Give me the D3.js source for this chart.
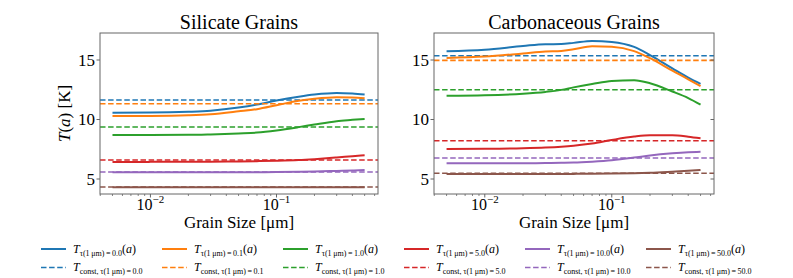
<!DOCTYPE html>
<html>
<head>
<meta charset="utf-8">
<script src="https://cdn.jsdelivr.net/npm/d3@7"></script>
<style>
  body { margin: 0; background: #fff; }
</style>
</head>
<body>
<div id="chart"></div>
<script>
const taus = ["0.0", "0.1", "1.0", "5.0", "10.0", "50.0"];
const colors = ["#1f77b4", "#ff7f0e", "#2ca02c", "#d62728", "#9467bd", "#8c564b"];

// silicate grains
const silSizes = [0.005, 0.01, 0.02, 0.03, 0.05, 0.07, 0.1, 0.15, 0.2, 0.3, 0.4, 0.5];
const silT = [
  [10.57, 10.58, 10.65, 10.74, 11.0, 11.25, 11.6, 11.92, 12.1, 12.23, 12.18, 12.1],
  [10.29, 10.3, 10.36, 10.45, 10.69, 10.87, 11.2, 11.58, 11.75, 11.88, 11.86, 11.79],
  [8.7, 8.7, 8.71, 8.75, 8.83, 8.9, 9.08, 9.36, 9.58, 9.86, 9.97, 10.05],
  [6.43, 6.44, 6.45, 6.46, 6.48, 6.5, 6.53, 6.59, 6.67, 6.81, 6.92, 7.0],
  [5.56, 5.56, 5.56, 5.56, 5.56, 5.57, 5.58, 5.6, 5.63, 5.68, 5.72, 5.76],
  [4.3, 4.3, 4.3, 4.3, 4.3, 4.3, 4.3, 4.3, 4.3, 4.3, 4.31, 4.31]
];
const silConst = [11.64, 11.33, 9.37, 6.6, 5.59, 4.33];

// carbonaceous grains
const carSizes = [0.005, 0.01, 0.02, 0.03, 0.04, 0.05, 0.07, 0.1, 0.15, 0.2, 0.3, 0.4, 0.5];
const carT = [
  [15.74, 15.86, 16.18, 16.33, 16.34, 16.44, 16.6, 16.52, 16.1, 15.42, 14.3, 13.52, 13.0],
  [15.17, 15.29, 15.55, 15.71, 15.76, 15.9, 16.16, 16.12, 15.75, 15.15, 14.1, 13.38, 12.8],
  [12.0, 12.04, 12.17, 12.32, 12.49, 12.7, 12.98, 13.24, 13.3, 13.05, 12.35, 11.8, 11.25],
  [7.52, 7.54, 7.59, 7.65, 7.72, 7.8, 7.98, 8.28, 8.57, 8.68, 8.68, 8.56, 8.42],
  [6.32, 6.32, 6.33, 6.34, 6.36, 6.38, 6.46, 6.58, 6.8, 6.98, 7.16, 7.25, 7.29],
  [5.42, 5.42, 5.42, 5.42, 5.42, 5.43, 5.44, 5.46, 5.49, 5.53, 5.62, 5.69, 5.76]
];
const carConst = [15.36, 14.97, 12.5, 8.22, 6.76, 5.48];

const yTicks = [5, 10, 15];
const xTicks = [0.01, 0.1];

const width = 793;
const height = 278;
const plotTop = 33;
const plotBottom = 194;
const spine = "#666";
const serif = "'Liberation Serif', Tinos, 'Times New Roman', Times, 'DejaVu Serif', 'Noto Serif', serif";

const svg = d3
  .select("#chart")
  .append("svg")
  .attr("width", width)
  .attr("height", height)
  .attr("font-family", serif)
  .style("font-family", serif);

const y = d3.scaleLinear().domain([3.74, 17.27]).range([plotBottom, plotTop]);

const panels = [
  { title: "Silicate Grains", left: 100, right: 378, sizes: silSizes, T: silT, Tc: silConst, ylab: true },
  { title: "Carbonaceous Grains", left: 434, right: 714, sizes: carSizes, T: carT, Tc: carConst, ylab: false }
];

panels.forEach((p, pi) => {
  const x = d3
    .scaleLog()
    .domain([Math.pow(10, -2.4), Math.pow(10, -0.195)])
    .range([p.left, p.right]);

  const g = svg.append("g");

  g.append("clipPath")
    .attr("id", "clip" + pi)
    .append("rect")
    .attr("x", p.left)
    .attr("y", plotTop)
    .attr("width", p.right - p.left)
    .attr("height", plotBottom - plotTop);

  const plot = g.append("g").attr("clip-path", `url(#clip${pi})`);

  const line = d3
    .line()
    .x((d) => x(d[0]))
    .y((d) => y(d[1]))
    .curve(d3.curveMonotoneX);

  p.T.forEach((vals, i) => {
    plot
      .append("path")
      .attr("d", line(p.sizes.map((a, j) => [a, vals[j]])))
      .attr("fill", "none")
      .attr("stroke", colors[i])
      .attr("stroke-width", 2);

    plot
      .append("line")
      .attr("x1", p.left)
      .attr("x2", p.right)
      .attr("y1", y(p.Tc[i]))
      .attr("y2", y(p.Tc[i]))
      .attr("stroke", colors[i])
      .attr("stroke-width", 1.6)
      .attr("stroke-dasharray", "5.5,2.6");
  });

  // frame
  g.append("rect")
    .attr("x", p.left)
    .attr("y", plotTop)
    .attr("width", p.right - p.left)
    .attr("height", plotBottom - plotTop)
    .attr("fill", "none")
    .attr("stroke", spine)
    .attr("stroke-width", 1);

  // y axis
  yTicks.forEach((t) => {
    g.append("line")
      .attr("x1", p.left - 3.5)
      .attr("x2", p.left)
      .attr("y1", y(t))
      .attr("y2", y(t))
      .attr("stroke", spine);
    g.append("text")
      .attr("x", p.left - 5)
      .attr("y", y(t))
      .attr("dy", "0.35em")
      .attr("text-anchor", "end")
      .attr("font-size", 17)
      .text(t);
    if (pi === 1) {
      g.append("line")
        .attr("x1", p.right - 3.5)
        .attr("x2", p.right)
        .attr("y1", y(t))
        .attr("y2", y(t))
        .attr("stroke", spine);
    }
  });

  // x axis, log minors
  const [d0, d1] = x.domain();
  for (let e = -3; e <= -1; e++) {
    for (let m = 2; m <= 9; m++) {
      const v = m * Math.pow(10, e);
      if (v < d0 || v > d1) continue;
      g.append("line")
        .attr("x1", x(v))
        .attr("x2", x(v))
        .attr("y1", plotBottom)
        .attr("y2", plotBottom + 2)
        .attr("stroke", spine)
        .attr("stroke-width", 0.8);
    }
  }
  xTicks.forEach((t) => {
    g.append("line")
      .attr("x1", x(t))
      .attr("x2", x(t))
      .attr("y1", plotBottom)
      .attr("y2", plotBottom + 3.5)
      .attr("stroke", spine);
    const lab = g
      .append("text")
      .attr("x", x(t))
      .attr("y", 210)
      .attr("text-anchor", "middle")
      .attr("font-size", 16);
    lab.append("tspan").text("10");
    lab
      .append("tspan")
      .attr("font-size", 11)
      .attr("dy", -7)
      .text("\u2212" + Math.round(-Math.log10(t)));
  });

  g.append("text")
    .attr("x", (p.left + p.right) / 2)
    .attr("y", 228)
    .attr("text-anchor", "middle")
    .attr("font-size", 17)
    .text("Grain Size [\u03bcm]");

  g.append("text")
    .attr("x", (p.left + p.right) / 2)
    .attr("y", 29)
    .attr("text-anchor", "middle")
    .attr("font-size", 20)
    .text(p.title);

  if (p.ylab) {
    const yl = g
      .append("text")
      .attr("transform", `translate(70,${(plotTop + plotBottom) / 2}) rotate(-90)`)
      .attr("text-anchor", "middle")
      .attr("font-size", 17);
    yl.append("tspan").attr("font-style", "italic").text("T");
    yl.append("tspan").text("(");
    yl.append("tspan").attr("font-style", "italic").text("a");
    yl.append("tspan").text(") [K]");
  }
});

// Legend
const legend = svg
  .selectAll("g.legend")
  .data(taus)
  .enter()
  .append("g")
  .attr("class", "legend")
  .attr("transform", (d, i) => `translate(${41 + i * 121}, 0)`);

legend
  .append("line")
  .attr("x1", 0)
  .attr("x2", 25)
  .attr("y1", 249)
  .attr("y2", 249)
  .attr("stroke", (d, i) => colors[i])
  .attr("stroke-width", 2);

legend
  .append("line")
  .attr("x1", 0)
  .attr("x2", 25)
  .attr("y1", 267.5)
  .attr("y2", 267.5)
  .attr("stroke", (d, i) => colors[i])
  .attr("stroke-width", 1.6)
  .attr("stroke-dasharray", "5.5,2.6");

const row1 = legend
  .append("text")
  .attr("x", 32)
  .attr("y", 253)
  .attr("font-size", 12);
row1.append("tspan").attr("font-style", "italic").text("T");
row1
  .append("tspan")
  .attr("font-size", 8)
  .attr("dy", 2.5)
  .text((d) => `\u03c4(1\u2009\u03bcm)\u2009=\u2009${d}`);
row1.append("tspan").attr("dy", -2.5).text("(");
row1.append("tspan").attr("font-style", "italic").text("a");
row1.append("tspan").text(")");

const row2 = legend
  .append("text")
  .attr("x", 32)
  .attr("y", 271)
  .attr("font-size", 12);
row2.append("tspan").attr("font-style", "italic").text("T");
row2
  .append("tspan")
  .attr("font-size", 8)
  .attr("dy", 2.5)
  .text((d) => `const,\u2009\u03c4(1\u2009\u03bcm)\u2009=\u2009${d}`);
</script>
</body>
</html>
